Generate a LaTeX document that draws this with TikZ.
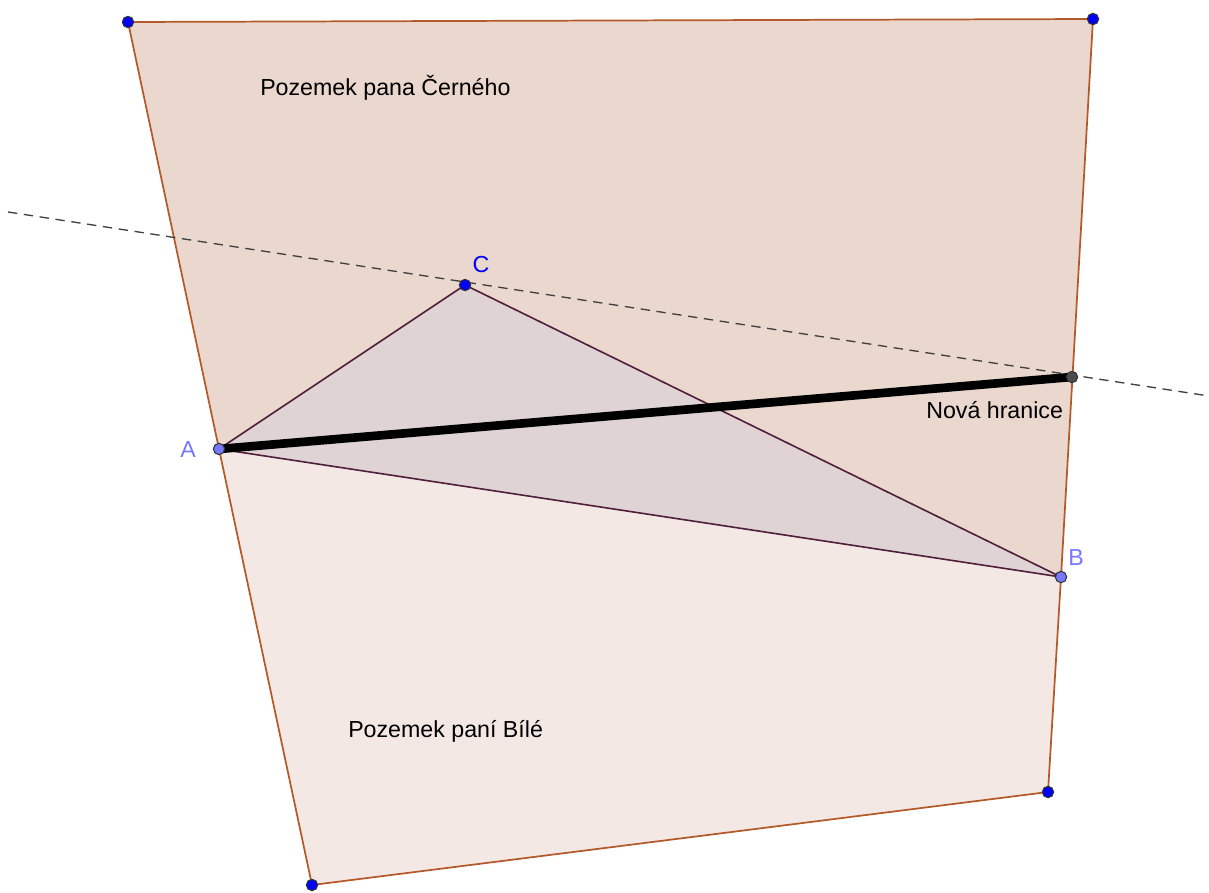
\documentclass[tikz,border=0pt]{standalone}
\usepackage{fontspec}
\setmainfont{Liberation Sans}
\definecolor{cernyfill}{RGB}{234,215,205}
\definecolor{bilafill}{RGB}{244,232,228}
\definecolor{trojfill}{RGB}{224,211,211}
\definecolor{hrana}{RGB}{180,90,42}
\definecolor{trojhrana}{RGB}{80,30,60}
\definecolor{bodmodry}{RGB}{0,0,255}
\definecolor{bodsvetly}{RGB}{120,120,255}
\tikzset{
  bod/.style={circle,fill=#1,draw=black!80,line width=0.8pt,inner sep=0pt,minimum size=8.5pt},
  popis/.style={anchor=west,inner sep=0pt,font=\fontsize{17.4}{20}\selectfont},
  bodpopis/.style={inner sep=0pt,font=\fontsize{17.4}{20}\selectfont}
}

\begin{document}
\begin{tikzpicture}[x=0.75pt,y=0.75pt,yscale=-1,xscale=1]
\useasboundingbox (0,0) rectangle (1209,892);

% body
\coordinate (TL) at (128,22);
\coordinate (TR) at (1093,19);
\coordinate (A) at (219,449);
\coordinate (B) at (1061,577);
\coordinate (C) at (465,285);
\coordinate (N) at (1072,377);
\coordinate (BR) at (1048,792);
\coordinate (BL) at (312,885);
\coordinate (D1) at (8,212);
\coordinate (D2) at (1209,396);

% Pozemek pana Cerneho
\fill [cernyfill] (TL) -- (TR) -- (B) -- (A) -- cycle;
% Pozemek pani Bile
\fill [bilafill] (A) -- (B) -- (BR) -- (BL) -- cycle;
\draw [hrana,line width=1.3pt,line join=round] (A) -- (BL) -- (BR) -- (B) -- (TR) -- (TL) -- cycle;
% trojuhelnik ABC
\draw [trojhrana,line width=1.2pt,fill=trojfill,line join=round] (A) -- (C) -- (B) -- cycle;

% rovnobezka
\draw [dash pattern=on 7pt off 5pt,line width=1pt,black!75] (D1) -- (D2);
% nova hranice
\draw [line width=6.5pt] (A) -- (N);

\node [bod=bodmodry] (pTL) at (TL) {};
\node [bod=bodmodry] (pTR) at (TR) {};
\node [bod=bodmodry] (pBR) at (BR) {};
\node [bod=bodmodry] (pBL) at (BL) {};
\node [bod=bodmodry] (pC) at (C) {};
\node [bod=bodsvetly] (pA) at (A) {};
\node [bod=bodsvetly] (pB) at (B) {};
\node [bod=black!70] (pN) at (N) {};

\node [bodpopis,text=bodsvetly] (lA) at (188,450) {A};
\node [bodpopis,text=bodsvetly] (lB) at (1076,558) {B};
\node [bodpopis,text=bodmodry] (lC) at (481,265) {C};

\node [popis] (cerny) at (260,88) {Pozemek pana Černého};
\node [popis] (bila) at (348,731) {Pozemek paní Bílé};
\node [popis] (hranice) at (926,410) {Nová hranice};
\end{tikzpicture}
\end{document}
